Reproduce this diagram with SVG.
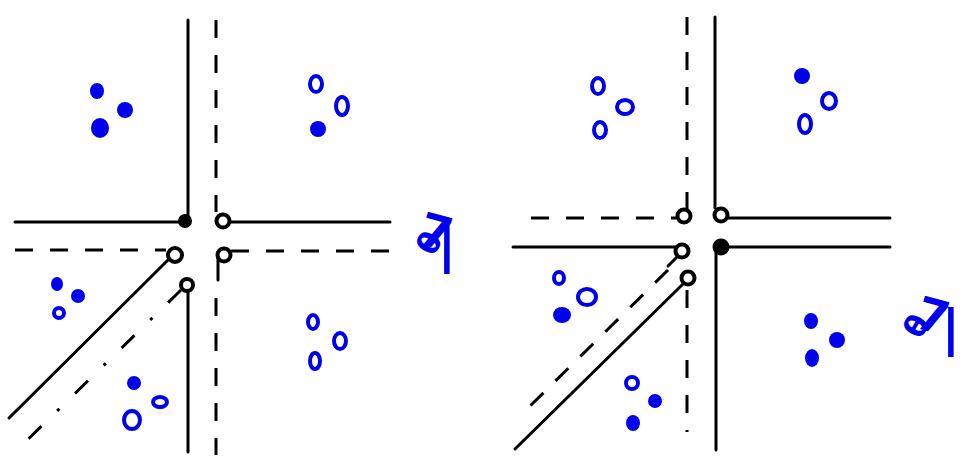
<svg xmlns="http://www.w3.org/2000/svg" width="970" height="461" viewBox="0 0 970 461">
<style>
.s{stroke:#000;stroke-width:3;fill:none;stroke-linecap:round}
.d{stroke:#000;stroke-width:3;fill:none;stroke-dasharray:18 17}
.dd{stroke:#000;stroke-width:3;fill:none;stroke-dasharray:18 22 3 22}
.o{stroke:#000;stroke-width:4;fill:#fff}
.f{fill:#000}
.bo{stroke:#0000ee;stroke-width:4;fill:none}
.bf{fill:#0000ee}
.lbl{font-family:"DejaVu Sans",sans-serif;font-weight:bold;fill:#0000ee}
</style>
<rect width="970" height="461" fill="#fff"/>
<g id="connectors">
  <!-- left diagram -->
  <line class="s" x1="188" y1="20" x2="188" y2="218"/>
  <line class="d" x1="216" y1="20" x2="216" y2="212"/>
  <line class="s" x1="15" y1="222" x2="183" y2="222"/>
  <line class="s" x1="229" y1="222" x2="390" y2="222"/>
  <line class="d" x1="15" y1="250" x2="166" y2="250"/>
  <line class="d" x1="231" y1="251" x2="395" y2="251"/>
  <line class="s" x1="218" y1="258" x2="218" y2="280"/>
  <line class="d" x1="216" y1="298" x2="216" y2="455"/>
  <line class="s" x1="188" y1="289" x2="188" y2="452"/>
  <line class="s" x1="169" y1="259" x2="9" y2="418"/>
  <line class="dd" x1="181" y1="290" x2="15" y2="452"/>
  <!-- right diagram -->
  <line class="d" x1="687" y1="17" x2="687" y2="209"/>
  <line class="s" x1="715" y1="17" x2="715" y2="208"/>
  <line class="d" x1="531" y1="218" x2="676" y2="218"/>
  <line class="s" x1="727" y1="218" x2="890" y2="218"/>
  <line class="s" x1="513" y1="247" x2="676" y2="247"/>
  <line class="s" x1="727" y1="247" x2="890" y2="247"/>
  <line class="s" x1="716" y1="252" x2="716" y2="450"/>
  <line class="d" x1="687" y1="290" x2="687" y2="432"/>
  <line class="s" x1="677" y1="257" x2="668" y2="266"/>
  <line class="d" x1="668" y1="270" x2="526" y2="410"/>
  <line class="s" x1="683" y1="284" x2="515" y2="449"/>
</g>
<g id="left-junction">
  <circle class="f" cx="185" cy="221" r="7"/>
  <circle class="o" cx="223" cy="221" r="6.5"/>
  <circle class="o" cx="175" cy="255" r="7"/>
  <circle class="o" cx="224" cy="255" r="6.5"/>
  <circle class="o" cx="187" cy="285" r="6"/>
</g>
<g id="right-junction">
  <circle class="o" cx="684" cy="216" r="6.5"/>
  <circle class="o" cx="721" cy="215" r="6.5"/>
  <circle class="o" cx="682" cy="251" r="6.5"/>
  <circle class="f" cx="721" cy="247" r="8.5"/>
  <circle class="o" cx="688" cy="278" r="6.5"/>
</g>
<g id="left-points">
  <ellipse class="bf" cx="97" cy="91" rx="7" ry="8"/>
  <ellipse class="bf" cx="125" cy="110" rx="8" ry="8"/>
  <ellipse class="bf" cx="100" cy="128" rx="9" ry="10"/>
  <ellipse class="bo" cx="316" cy="84" rx="6" ry="8"/>
  <ellipse class="bo" cx="342" cy="106" rx="6" ry="9"/>
  <ellipse class="bf" cx="318" cy="129" rx="8" ry="8"/>
  <ellipse class="bf" cx="57" cy="284" rx="6" ry="7"/>
  <ellipse class="bf" cx="78" cy="296" rx="7" ry="7"/>
  <ellipse class="bo" cx="59" cy="313" rx="5" ry="5"/>
  <ellipse class="bf" cx="134" cy="383" rx="7" ry="7"/>
  <ellipse class="bo" cx="160" cy="402" rx="7" ry="5"/>
  <ellipse class="bo" cx="132" cy="420" rx="8" ry="9"/>
  <ellipse class="bo" cx="313" cy="322" rx="5" ry="7"/>
  <ellipse class="bo" cx="340" cy="341" rx="6" ry="8"/>
  <ellipse class="bo" cx="315" cy="361" rx="5" ry="8"/>
</g>
<g id="left-label">
  <text class="lbl" font-size="30" transform="translate(431 244) rotate(-60)" text-anchor="middle" dominant-baseline="middle">θ</text>
  <text class="lbl" font-size="46" x="437" y="248" transform="rotate(15 437 228)" text-anchor="middle">7</text>
  <text class="lbl" font-size="50" x="447" y="262" font-weight="normal" text-anchor="middle">|</text>
</g>
<g id="right-points">
  <ellipse class="bo" cx="598" cy="86" rx="6" ry="8"/>
  <ellipse class="bo" cx="625" cy="107" rx="8" ry="7"/>
  <ellipse class="bo" cx="600" cy="130" rx="6" ry="8"/>
  <ellipse class="bf" cx="802" cy="76" rx="8" ry="8"/>
  <ellipse class="bo" cx="829" cy="101" rx="7" ry="8"/>
  <ellipse class="bo" cx="805" cy="124" rx="6" ry="9"/>
  <ellipse class="bo" cx="559" cy="278" rx="5" ry="6"/>
  <ellipse class="bo" cx="587" cy="297" rx="9" ry="8"/>
  <ellipse class="bf" cx="562" cy="315" rx="9" ry="8"/>
  <ellipse class="bo" cx="632" cy="383" rx="6" ry="6"/>
  <ellipse class="bf" cx="655" cy="401" rx="7" ry="7"/>
  <ellipse class="bf" cx="633" cy="423" rx="7" ry="8"/>
  <ellipse class="bf" cx="811" cy="321" rx="7" ry="8"/>
  <ellipse class="bf" cx="837" cy="340" rx="8" ry="8"/>
  <ellipse class="bf" cx="812" cy="358" rx="7" ry="9"/>
</g>
<g id="right-label">
  <text class="lbl" font-size="30" transform="translate(918 327) rotate(-60)" text-anchor="middle" dominant-baseline="middle">θ</text>
  <text class="lbl" font-size="46" x="934" y="332" transform="rotate(15 934 312)" text-anchor="middle">7</text>
  <text class="lbl" font-size="50" x="951" y="345" font-weight="normal" text-anchor="middle">|</text>
</g>
</svg>
